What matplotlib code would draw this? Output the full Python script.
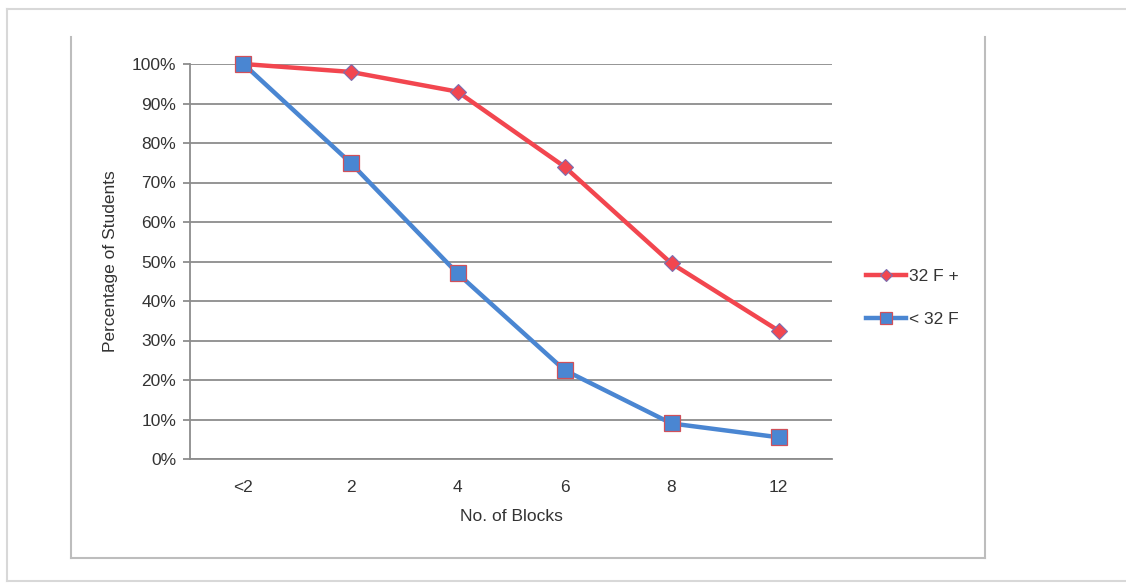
import numpy as np
import matplotlib
matplotlib.use("Agg")
import matplotlib.pyplot as plt
from matplotlib.lines import Line2D

plt.rcParams["font.family"] = ["Liberation Sans", "DejaVu Sans"]

categories = ["<2", "2", "4", "6", "8", "12"]
warm = [100, 98, 93, 74, 49.5, 32.5]
cold = [100, 75, 47, 22.5, 9, 5.5]
series_names = ["32 F +", "< 32 F"]

W, H = 1126, 584
fig = plt.figure(figsize=(W / 100, H / 100), dpi=100)
fig.patch.set_facecolor("white")

# screenshot border and chart frame
def hline(x0, x1, y, **kw):
    fig.add_artist(Line2D([x0 / W, x1 / W], [1 - y / H, 1 - y / H], **kw))

def vline(x, y0, y1, **kw):
    fig.add_artist(Line2D([x / W, x / W], [1 - y0 / H, 1 - y1 / H], **kw))

hline(7, W, 8.5, color="#d8d8d8", lw=1.5)
vline(7, 8.5, 581, color="#d8d8d8", lw=1.5)
hline(7, W, 581, color="#d8d8d8", lw=1.5)
vline(71, 37, 558, color="#bdbdbd", lw=1.5)
vline(984.5, 37, 558, color="#bdbdbd", lw=1.5)
hline(71, 984.5, 558, color="#bdbdbd", lw=1.5)

ax = fig.add_axes([190 / W, 1 - 459 / H, (832 - 190) / W, (459 - 64) / H])
x = np.arange(len(categories))
red, blue = "#f2464f", "#4a86d2"
ax.plot(x, warm, color=red, lw=3.2, marker="D", ms=8.5, mfc=red,
        mec="#7b6fb0", mew=0.8, clip_on=False, zorder=4, label=series_names[0])
ax.plot(x, cold, color=blue, lw=3.2, marker="s", ms=11, mfc=blue,
        mec="#d0505a", mew=0.9, clip_on=False, zorder=5, label=series_names[1])

ax.set_xlim(-0.5, len(categories) - 0.5)
ax.set_ylim(0, 100)
ax.set_xticks(x)
ax.set_xticklabels(categories)
ax.set_yticks(np.arange(0, 101, 10))
ax.set_yticklabels([f"{v}%" for v in range(0, 101, 10)])
ax.yaxis.grid(True, color="#8c8c8c", lw=1.3)
ax.set_axisbelow(True)
for s in ["top", "right"]:
    ax.spines[s].set_visible(False)
for s in ["left", "bottom"]:
    ax.spines[s].set_color("#8c8c8c")
    ax.spines[s].set_linewidth(1.3)
ax.tick_params(axis="y", length=5, width=1.3, color="#8c8c8c", pad=5,
               labelsize=12.5, labelcolor="#333333")
ax.tick_params(axis="x", length=0, pad=15, labelsize=12.5, labelcolor="#333333")
ax.set_xlabel("No. of Blocks", fontsize=12.5, color="#333333", labelpad=10)
ax.set_ylabel("Percentage of Students", fontsize=12.5, color="#333333", labelpad=10)

ax.legend(loc="center left", bbox_to_anchor=(850 / W, 1 - 298 / H),
          bbox_transform=fig.transFigure, frameon=False, fontsize=12.5,
          handlelength=2.3, handletextpad=0.2, labelspacing=1.65,
          markerscale=0.75, labelcolor="#333333")

fig.savefig("out.png", dpi=100)
